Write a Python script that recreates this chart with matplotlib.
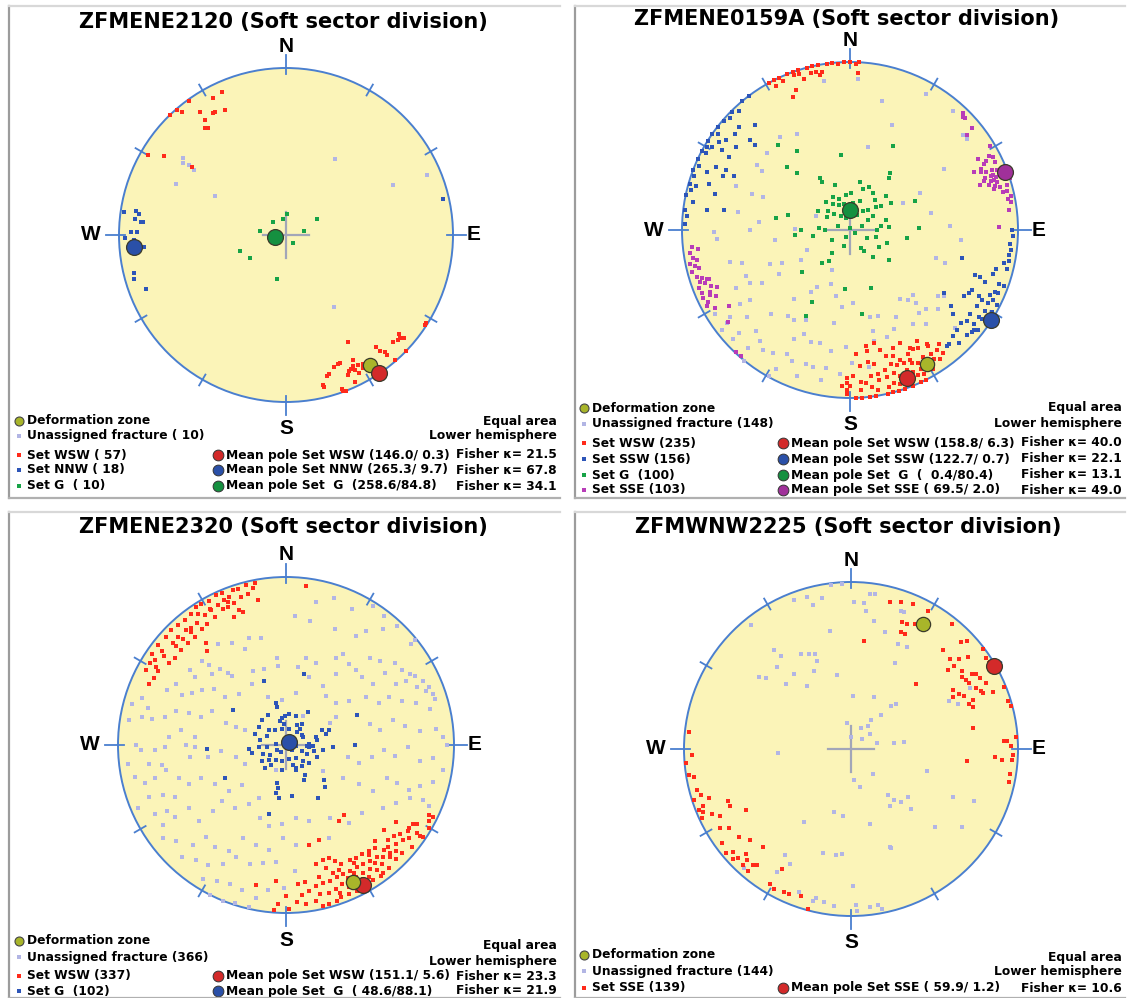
import numpy as np
import matplotlib.pyplot as plt
from matplotlib.patches import Circle
from matplotlib.lines import Line2D

# poles as (trend, plunge), lower hemisphere
p1_unassigned = [(299, 50), (33, 45), (305, 26), (305, 33), (295, 28), (65, 30), (67, 9),
                 (146, 47), (306, 29), (307, 24)]
p1_wsw = [(336, 7), (332, 8), (324, 1), (319, 1), (320, 4), (325, 11), (329, 16), (330, 16),
          (334, 18), (325, 17), (324, 22), (323, 21), (316, 0), (300, 5), (303, 14), (306, 31),
          (150, 27), (158, 18), (157, 18), (152, 16), (153, 13), (155, 11), (153, 10), (156, 9),
          (160, 2), (163, 14), (164, 13), (166, 7), (166, 8), (159, 0), (155, 3), (152, 7),
          (141, 15), (140, 9), (140, 7), (135, 10), (133, 9), (132, 9), (131, 7), (139, 1),
          (134, 0), (123, 1), (122, 1), (150, 9), (149, 11), (146, 6), (147, 5), (160, 1),
          (160, 17), (154, 12), (151, 12), (141, 12), (131, 11)]
p1_nnw = [(279, 10), (278, 12), (275, 14), (275, 15), (271, 12), (271, 8), (268, 10), (265, 9),
          (265, 12), (265, 16), (256, 7), (254, 6), (249, 11), (77, 4), (278, 2), (269, 4), (276, 10)]
p1_g = [(2, 80), (314, 81), (350, 82), (62, 73), (278, 77), (79, 81), (140, 85), (251, 66),
        (237, 69), (191, 68)]

p2_unassigned = [(350, 11), (3, 11), (14, 22), (29, 8), (41, 7), (22, 33), (12, 48), (323, 31),
                 (331, 35), (313, 33), (305, 33), (304, 37), (291, 28), (290, 38), (279, 33),
                 (269, 20), (266, 22), (270, 40), (262, 53), (275, 45), (255, 27), (253, 33),
                 (247, 47), (238, 49), (244, 53), (238, 62), (204, 69), (199, 62), (210, 58),
                 (192, 57), (212, 54), (219, 46), (216, 37), (212, 37), (206, 40), (199, 30),
                 (195, 31), (190, 43), (186, 52), (178, 54), (167, 46), (162, 45), (152, 41),
                 (144, 48), (140, 45), (136, 45), (138, 41), (136, 35), (141, 29), (127, 35),
                 (124, 33), (125, 32), (132, 30), (133, 16), (109, 40), (108, 45), (78, 49),
                 (57, 34), (50, 13), (52, 13), (95, 34), (88, 40), (62, 51), (63, 61), (246, 33),
                 (242, 33), (239, 39), (243, 25), (236, 22), (230, 21), (223, 19), (219, 16),
                 (227, 11), (227, 5), (221, 8), (216, 13), (219, 0), (212, 15), (207, 18),
                 (204, 16), (200, 8), (198, 17), (195, 17), (190, 18), (184, 15), (191, 10),
                 (179, 22), (167, 38), (168, 33), (161, 33), (156, 36), (146, 33), (140, 36),
                 (209, 1), (208, 7), (172, 19), (189, 28), (207, 28), (204, 33), (182, 31),
                 (223, 32), (235, 28), (234, 13), (233, 9), (232, 4), (238, 6), (271, 63),
                 (292, 72), (245, 67), (291, 44)]
p2_wsw = [(331, 0), (333, 0), (335, 0), (338, 0), (340, 0), (342, 0), (345, 0), (347, 0),
          (349, 0), (352, 0), (354, 0), (356, 1), (358, 0), (340, 2), (342, 3), (346, 4),
          (348, 4), (339, 12), (337, 15), (349, 7), (350, 5), (3, 7), (333, 4), (336, 3),
          (343, 7), (3, 0), (0, 0), (2, 1),
          (181, 10), (181, 5), (179, 14), (172, 31), (172, 28), (168, 32), (166, 27), (160, 26),
          (156, 27), (149, 24), (152, 21), (146, 19), (144, 13), (145, 7), (149, 4), (153, 0),
          (155, 0), (158, 0), (161, 0), (163, 0), (165, 0), (167, 0), (171, 0), (173, 0),
          (176, 0), (164, 6), (161, 9), (161, 16), (158, 16), (155, 16), (153, 12), (153, 8),
          (156, 8), (158, 11), (163, 12), (163, 18), (164, 23), (155, 20), (150, 14), (147, 13),
          (166, 11), (169, 10), (172, 6), (174, 9), (176, 5), (178, 0), (170, 4), (166, 4),
          (162, 4), (158, 3), (155, 5), (153, 4), (151, 8), (147, 9), (143, 9), (142, 15),
          (155, 14), (159, 18), (166, 15), (169, 14), (172, 13), (176, 10), (181, 13), (180, 8),
          (183, 8), (170, 20), (172, 22), (176, 20), (177, 27), (161, 22), (153, 22), (150, 20),
          (146, 18), (181, 3)]
p2_ssw = [(277, 1), (282, 0), (286, 1), (291, 0), (295, 0), (298, 0), (302, 0), (305, 0),
          (308, 0), (311, 1), (315, 1), (320, 0), (323, 0), (298, 3), (301, 5), (304, 7),
          (306, 10), (310, 12), (313, 11), (318, 17), (312, 21), (312, 25), (306, 17), (302, 11),
          (301, 17), (295, 13), (296, 19), (295, 25), (293, 19), (292, 9), (288, 13), (285, 18),
          (278, 15), (279, 25), (286, 5), (280, 6), (289, 2), (293, 3), (300, 2), (306, 3),
          (313, 3), (317, 4), (284, 3), (275, 3), (272, 2),
          (104, 32), (110, 22), (110, 19), (111, 15), (107, 12), (105, 11), (102, 7), (99, 5),
          (97, 4), (95, 5), (104, 4), (110, 6), (113, 7), (115, 9), (118, 12), (121, 13),
          (125, 14), (128, 13), (130, 15), (133, 14), (136, 13), (139, 11), (140, 11), (124, 8),
          (121, 7), (118, 8), (116, 6), (113, 5), (110, 3), (129, 6), (132, 7), (136, 7),
          (129, 22), (127, 26), (124, 33), (120, 23), (118, 21), (116, 20), (117, 15), (124, 6),
          (127, 8), (130, 6), (128, 4), (123, 3), (120, 3), (117, 2), (90, 4), (92, 3), (101, 4)]
p2_g = [(353, 53), (320, 34), (326, 43), (315, 46), (317, 52), (330, 61), (330, 63), (341, 67),
        (333, 72), (341, 74), (354, 73), (2, 72), (12, 66), (18, 69), (24, 67), (32, 69),
        (39, 71), (18, 75), (6, 77), (348, 77), (336, 77), (326, 75), (320, 72), (310, 76),
        (315, 79), (327, 82), (340, 84), (25, 82), (35, 79), (41, 77), (59, 77), (48, 73),
        (53, 71), (35, 56), (37, 58), (27, 43), (47, 66), (57, 66), (74, 72), (85, 71), (83, 75),
        (89, 77), (104, 77), (116, 81), (149, 80), (147, 78), (139, 73), (120, 74), (110, 71),
        (127, 66), (98, 62), (66, 55), (88, 56), (290, 84), (271, 78), (274, 75), (260, 72),
        (270, 66), (265, 63), (284, 59), (279, 53), (229, 59), (221, 69), (214, 72), (240, 80),
        (200, 82), (210, 86), (123, 87), (219, 76), (185, 61), (160, 60), (172, 48), (208, 50),
        (207, 42), (300, 77), (300, 72), (69, 84), (0, 89), (62, 80)]
p2_sse = [(46, 5), (50, 6), (51, 11), (59, 3), (63, 5), (65, 15), (67, 13), (69, 10), (65, 5),
          (68, 0), (72, 0), (74, 8), (76, 7), (79, 5), (83, 5), (89, 12), (71, 19), (70, 16),
          (72, 14), (71, 12), (67, 9), (70, 8), (65, 20), (69, 11), (71, 10), (73, 11), (74, 3),
          (71, 3), (45, 5), (44, 4), (80, 3), (78, 2), (62, 7), (64, 12), (66, 16), (68, 6),
          (72, 9), (74, 12), (76, 4), (69, 15), (63, 10), (61, 14),
          (264, 6), (260, 6), (258, 3), (253, 5), (251, 6), (251, 11), (248, 12),
          (247, 15), (245, 9), (247, 5), (245, 4), (242, 4), (243, 6), (238, 16), (233, 10),
          (263, 10), (223, 1), (221, 1), (257, 6), (256, 8), (250, 9), (251, 12),
          (255, 3), (249, 4), (246, 10), (252, 8), (259, 8), (262, 4),
          (244, 12), (240, 8)]

p3_unassigned = [(18, 9), (12, 14), (26, 11), (32, 3), (37, 4), (4, 24), (11, 26), (23, 26),
                 (33, 24), (35, 18), (40, 11), (43, 4), (51, 5), (51, 1), (341, 33), (347, 35),
                 (326, 28), (332, 32), (337, 38), (354, 47), (13, 46), (20, 47), (30, 40),
                 (32, 36), (38, 39), (44, 29), (48, 26), (53, 20), (57, 19), (60, 16), (62, 14),
                 (65, 11), (68, 9), (71, 8), (315, 30), (316, 34), (308, 28), (307, 33),
                 (314, 39), (319, 40), (321, 44), (322, 47), (336, 50), (344, 51), (354, 51),
                 (9, 51), (19, 55), (32, 56), (35, 47), (43, 39), (48, 39), (55, 37), (54, 28),
                 (61, 26), (62, 20), (66, 16), (69, 12), (73, 8), (299, 26), (295, 23), (296, 32),
                 (299, 36), (303, 40), (308, 45), (308, 52), (317, 56), (331, 56), (340, 65),
                 (355, 68), (11, 64), (39, 59), (50, 58), (55, 52), (59, 44), (66, 39), (65, 33),
                 (69, 27), (72, 20), (76, 13), (288, 11), (285, 6), (285, 16), (279, 6), (281, 14),
                 (281, 20), (283, 27), (287, 32), (288, 39), (288, 46), (295, 50), (290, 59),
                 (290, 64), (290, 69), (30, 74), (64, 66), (61, 62), (76, 47), (81, 43), (77, 35),
                 (81, 29), (84, 21), (84, 11), (87, 7), (90, 5), (278, 37), (275, 45), (274, 31),
                 (270, 12), (268, 15), (268, 23), (269, 29), (270, 40), (269, 45), (263, 42),
                 (261, 51), (265, 58), (257, 65), (245, 68), (101, 59), (104, 53), (98, 47),
                 (93, 41), (96, 35), (91, 28), (97, 21), (95, 13), (263, 6), (262, 19), (261, 26),
                 (258, 9), (255, 14), (256, 21), (258, 28), (253, 34), (248, 38), (249, 45),
                 (241, 50), (231, 54), (228, 61), (212, 56), (207, 61), (202, 77), (125, 68),
                 (120, 58), (118, 49), (118, 41), (108, 37), (109, 31), (110, 23), (107, 18),
                 (104, 11), (99, 6), (249, 14), (248, 22), (245, 28), (247, 5), (242, 13),
                 (241, 20), (237, 22), (237, 32), (229, 32), (228, 41), (229, 48), (219, 50),
                 (200, 52), (192, 49), (183, 51), (172, 54), (163, 51), (149, 48), (141, 40),
                 (132, 39), (123, 32), (118, 27), (113, 21), (112, 13), (113, 8), (233, 9),
                 (229, 14), (223, 20), (221, 28), (215, 27), (208, 29), (205, 39), (197, 38),
                 (189, 37), (182, 44), (174, 40), (155, 39), (237, 14), (223, 10), (218, 14),
                 (213, 16), (208, 21), (204, 28), (197, 27), (212, 7), (207, 10), (202, 12),
                 (197, 11), (191, 8), (187, 14), (181, 16), (176, 26), (207, 0), (202, 0),
                 (198, 1), (193, 1), (191, 29), (185, 31)]
p3_wsw = [(349, 2), (348, 5), (346, 2), (343, 3), (341, 3), (339, 6), (337, 7), (337, 2),
          (335, 2), (332, 3), (329, 2), (327, 2), (324, 4), (321, 5), (318, 4), (315, 4),
          (312, 4), (308, 4), (304, 4), (301, 6), (298, 6), (294, 12), (297, 13), (300, 13),
          (305, 16), (308, 17), (312, 17), (316, 17), (320, 17), (324, 16), (327, 15), (331, 14),
          (335, 12), (337, 12), (340, 11), (343, 9), (346, 8), (349, 13), (341, 16), (338, 19),
          (322, 24), (320, 28), (321, 11), (319, 10), (315, 10), (312, 10), (307, 8), (303, 8),
          (326, 7), (331, 9), (342, 18), (7, 5), (301, 11), (306, 11), (312, 13), (316, 13),
          (320, 13), (324, 11), (328, 10), (331, 8), (334, 8), (338, 9),
          (192, 16), (184, 20), (183, 6), (184, 2), (167, 39), (161, 40), (145, 44), (140, 45),
          (137, 23), (131, 24), (125, 21), (125, 12), (118, 4), (124, 7), (124, 2), (116, 3),
          (166, 28), (162, 29), (159, 29), (157, 26), (155, 23), (151, 23), (148, 22), (145, 22),
          (142, 21), (139, 20), (137, 16), (135, 15), (132, 13), (129, 11), (127, 9), (137, 10),
          (141, 10), (144, 9), (148, 8), (151, 6), (154, 4), (157, 4), (160, 4), (162, 3),
          (165, 2), (167, 2), (169, 6), (168, 15), (165, 16), (162, 16), (159, 17), (156, 17),
          (153, 17), (150, 17), (147, 17), (144, 16), (141, 15), (164, 9), (161, 10), (158, 12),
          (155, 12), (152, 12), (149, 12), (146, 12), (143, 5), (140, 5), (136, 6), (133, 6),
          (129, 4), (134, 10), (162, 24), (166, 20), (167, 10), (171, 13), (174, 11), (173, 5),
          (176, 7), (180, 11), (179, 3), (172, 19), (175, 18), (153, 5), (150, 5), (147, 5),
          (144, 4), (156, 8), (160, 7), (153, 8), (150, 9), (155, 14), (160, 20), (157, 20),
          (152, 15), (143, 13), (139, 13), (136, 12), (143, 19), (150, 20), (133, 18), (130, 17),
          (128, 15), (124, 4), (121, 10), (120, 2), (116, 6), (122, 12), (124, 13)]
p3_g = [(346, 69), (347, 71), (330, 73), (316, 73), (304, 74), (290, 74), (280, 77), (265, 77),
        (264, 72), (256, 73), (237, 76), (228, 79), (214, 81), (194, 82), (167, 83), (141, 82),
        (133, 79), (129, 76), (112, 74), (98, 72), (93, 67), (74, 70), (71, 68), (68, 71),
        (75, 75), (87, 79), (64, 81), (41, 80), (28, 79), (12, 82), (346, 82), (324, 81),
        (295, 80), (263, 81), (238, 85), (214, 86), (130, 86), (110, 82), (101, 76), (98, 85),
        (276, 85), (148, 73), (153, 71), (143, 77), (156, 78), (193, 71), (192, 66), (188, 64),
        (173, 65), (149, 60), (133, 65), (137, 62), (191, 69), (242, 56), (267, 51), (303, 59),
        (341, 57), (14, 54), (34, 71), (67, 52), (90, 56), (194, 55), (351, 77), (359, 76),
        (5, 75), (19, 75), (37, 77), (311, 79), (248, 78), (216, 78), (223, 75), (159, 77),
        (96, 79), (92, 77), (80, 75), (346, 78), (354, 80), (41, 82), (58, 81), (94, 80),
        (114, 79), (161, 80), (189, 78), (237, 81)]

p4_unassigned = [(339, 5), (344, 6), (345, 12), (349, 9), (353, 1), (357, 1), (1, 13), (5, 13),
                 (6, 18), (7, 7), (9, 7), (10, 23), (16, 28), (24, 32), (29, 31), (20, 13), (21, 13),
                 (321, 5), (322, 26), (323, 31), (318, 34), (308, 31), (310, 34), (315, 44),
                 (323, 43), (332, 36), (336, 38), (339, 39), (339, 43), (335, 47), (325, 52),
                 (350, 29), (349, 53), (27, 42), (2, 64), (24, 62), (43, 61), (45, 59), (41, 68),
                 (35, 73), (37, 76), (25, 79), (352, 77), (358, 84), (48, 83), (52, 78), (77, 77),
                 (82, 69), (82, 64), (174, 75), (167, 71), (139, 74), (267, 54), (141, 61),
                 (140, 57), (137, 54), (130, 53), (146, 56), (135, 48), (106, 51), (115, 33),
                 (113, 21), (133, 32), (125, 20), (213, 47), (195, 58), (187, 57), (166, 52),
                 (195, 36), (188, 36), (185, 37), (158, 37), (158, 36), (212, 26), (211, 15),
                 (208, 23), (200, 10), (194, 7), (190, 8), (186, 6), (179, 19), (178, 7), (178, 3),
                 (173, 5), (170, 6), (169, 3), (193, 9), (64, 35), (67, 31), (222, 5), (63, 21)]
p4_sse = [(15, 10), (19, 8), (23, 6), (29, 6), (22, 19), (24, 19), (27, 17), (23, 25), (25, 25),
          (7, 35), (39, 4), (46, 9), (43, 20), (48, 21), (51, 22), (50, 17), (52, 12), (53, 1),
          (56, 3), (58, 3), (55, 20), (58, 16), (59, 14), (61, 13), (64, 11), (57, 22), (59, 21),
          (61, 20), (64, 18), (66, 16), (60, 30), (63, 28), (65, 26), (69, 25), (68, 22),
          (63, 32), (71, 24), (67, 15), (68, 9), (68, 1), (73, 2), (75, 1), (45, 44), (80, 27),
          (87, 9), (87, 7), (89, 5), (92, 3), (86, 1), (94, 4), (99, 4), (102, 4), (93, 15),
          (96, 31), (94, 10), (58, 2), (59, 0), (51, 26), (47, 6),
          (276, 3), (268, 5), (265, 1), (261, 2), (260, 5), (255, 5), (253, 7), (252, 1),
          (248, 2), (245, 2), (251, 11), (245, 9), (243, 13), (247, 21), (245, 21), (240, 28),
          (239, 9), (237, 14), (232, 16), (228, 20), (234, 5), (230, 3), (227, 4), (226, 7),
          (223, 6), (223, 10), (220, 10), (219, 12), (222, 22), (211, 6), (209, 5), (205, 6),
          (203, 6), (199, 8), (195, 1), (229, 7), (225, 12), (220, 5), (210, 18), (249, 6),
          (247, 4)]

set_counts = {'p1': [10, 57, 18, 10], 'p2': [148, 235, 156, 100, 103],
              'p3': [366, 337, 102], 'p4': [144, 139]}

# mean poles (trend, plunge) and Fisher kappa, deformation zone poles
p1_means = [(146.0, 0.3), (265.3, 9.7), (258.6, 84.8)]
p1_kappa = [21.5, 67.8, 34.1]
p2_means = [(158.8, 6.3), (122.7, 0.7), (0.4, 80.4), (69.5, 2.0)]
p2_kappa = [40.0, 22.1, 13.1, 49.0]
p3_means = [(151.1, 5.6), (48.6, 88.1)]
p3_kappa = [23.3, 21.9]
p4_means = [(59.9, 1.2)]
p4_kappa = [10.6]
dz_poles = [(147, 8), (150, 9), (154, 10), (30, 15)]

W, H = 1127, 998
FILL = '#fbf4b8'
RIM = '#4a7fcf'
CROSS = '#a2a6b8'
UNAS = '#b2b5e4'
OLIVE = '#a8b52a'
RED, BLUE, GREEN, MAG = '#ff2a1a', '#2d55b8', '#17a347', '#b83cb8'
M_RED, M_BLUE, M_GREEN, M_MAG = '#d32a2a', '#2a50a8', '#159040', '#a0309a'
LFS = 8.8
LFONT = ['DejaVu Sans']

plt.rcParams['font.family'] = ['Liberation Sans', 'DejaVu Sans']
plt.rcParams['font.weight'] = 'bold'

fig = plt.figure(figsize=(W / 100, H / 100), dpi=100)


def project(pts):
    a = np.array(pts, float)
    t = np.radians(a[:, 0])
    r = np.sqrt(2) * np.sin(np.radians(90 - a[:, 1]) / 2)
    return r * np.sin(t), r * np.cos(t)


def panel(box, cx, cy, R, title, title_y):
    x0, y0, x1, y1 = box
    ax = fig.add_axes([x0 / W, 1 - y1 / H, (x1 - x0) / W, (y1 - y0) / H])
    ax.set_xlim((x0 - cx) / R, (x1 - cx) / R)
    ax.set_ylim((cy - y1) / R, (cy - y0) / R)
    ax.axis('off')
    # panel frame
    for xs, ys, c in [([x0, x0], [y0, y1], '#9c9c9c'), ([x0, x1 - 2], [y1, y1], '#b0b0b0'),
                      ([x0, x1 - 2], [y0, y0], '#d8d8d8')]:
        fig.add_artist(Line2D(np.array(xs) / W, 1 - np.array(ys) / H, color=c, lw=1.6,
                              transform=fig.transFigure))

    def at(px, py):
        return (px - cx) / R, (cy - py) / R

    ax.add_patch(Circle((0, 0), 1, fc=FILL, ec=RIM, lw=1.4, zorder=1))
    for a in range(0, 360, 30):
        t = np.radians(a)
        r0, r1 = (0.965, 1.075) if a % 90 == 0 else (0.965, 1.04)
        ax.plot([r0 * np.sin(t), r1 * np.sin(t)], [r0 * np.cos(t), r1 * np.cos(t)],
                color=RIM, lw=1.3, zorder=2)
    k = 0.14
    ax.plot([-k, k], [0, 0], color=CROSS, lw=1.6, zorder=2)
    ax.plot([0, 0], [-k, k], color=CROSS, lw=1.6, zorder=2)
    lab = dict(fontsize=15, fontweight='bold', ha='center', va='center')
    ax.text(0, 1 + 22 / R, 'N', **lab)
    ax.text(0, -1 - 27 / R, 'S', **lab)
    ax.text(-1 - 28 / R, 0, 'W', **lab)
    ax.text(1 + 21 / R, 0, 'E', **lab)
    ax.text(*at(cx - 3, title_y), title, fontsize=15, fontweight='bold', ha='center',
            va='center', family=LFONT)
    return ax, at


def scatter(ax, pts, color, z):
    x, y = project(pts)
    ax.scatter(x, y, s=10, c=color, marker='s', linewidths=0, zorder=z)


def big(ax, pts, color, z, s=130):
    x, y = project(pts)
    ax.scatter(x, y, s=s, c=color, edgecolors='#3a3a2a', linewidths=0.9, zorder=z)


def ltext(ax, xy, s, ha='left'):
    ax.text(*xy, s, fontsize=LFS, va='center', ha=ha, family=LFONT, fontweight='bold')


def header(ax, at, lx, rx, dz_y, un_y, eq_y, unas_n):
    ax.scatter(*at(lx, dz_y), s=42, c=OLIVE, edgecolors='#444', linewidths=0.8, zorder=6,
               clip_on=False)
    ltext(ax, at(lx + 8, dz_y), 'Deformation zone')
    ax.scatter(*at(lx, un_y), s=10, c=UNAS, marker='s', linewidths=0, clip_on=False)
    ltext(ax, at(lx + 8, un_y), 'Unassigned fracture (%3d)' % unas_n)
    ltext(ax, at(rx, eq_y), 'Equal area', 'right')
    ltext(ax, at(rx, eq_y + 15), 'Lower hemisphere', 'right')


def row(ax, at, lx, mx, rx, y, name, n, col, mcol, mean, kap):
    ax.scatter(*at(lx, y), s=10, c=col, marker='s', linewidths=0, clip_on=False)
    nm = 'G ' if name == 'G' else name
    ltext(ax, at(lx + 8, y), 'Set %s (%3d)' % (nm, n))
    ax.scatter(*at(mx, y), s=60, c=mcol, edgecolors='#333', linewidths=0.7,
               clip_on=False, zorder=6)
    nm2 = ' G ' if name == 'G' else name
    ltext(ax, at(mx + 8, y), 'Mean pole Set %s (%5.1f/%4.1f)' % (nm2, mean[0], mean[1]))
    ltext(ax, at(rx, y), 'Fisher \u03ba= %4.1f' % kap, 'right')


# panel 1
ax, at = panel((9, 6, 562, 498), 286, 235, 167, 'ZFMENE2120 (Soft sector division)', 22)
scatter(ax, p1_unassigned, UNAS, 3)
scatter(ax, p1_wsw, RED, 4)
scatter(ax, p1_nnw, BLUE, 4)
scatter(ax, p1_g, GREEN, 4)
big(ax, [dz_poles[0]], OLIVE, 5, 105)
for m, mc in zip(p1_means, [M_RED, M_BLUE, M_GREEN]):
    big(ax, [m], mc, 6)
c1 = set_counts['p1']
header(ax, at, 19, 557, 421, 436, 421, c1[0])
for y, nm, n, col, mc, m, kp in zip([455, 470, 486], ['WSW', 'NNW', 'G'], c1[1:],
                                    [RED, BLUE, GREEN], [M_RED, M_BLUE, M_GREEN],
                                    p1_means, p1_kappa):
    row(ax, at, 19, 218, 557, y, nm, n, col, mc, m, kp)

# panel 2
ax, at = panel((575, 6, 1127, 498), 850, 230, 168, 'ZFMENE0159A (Soft sector division)', 19)
scatter(ax, p2_unassigned, UNAS, 3)
scatter(ax, p2_ssw, BLUE, 4)
scatter(ax, p2_sse, MAG, 4)
scatter(ax, p2_g, GREEN, 4)
scatter(ax, p2_wsw, RED, 4)
big(ax, [dz_poles[1]], OLIVE, 5, 105)
for m, mc in zip(p2_means, [M_RED, M_BLUE, M_GREEN, M_MAG]):
    big(ax, [m], mc, 6)
c2 = set_counts['p2']
header(ax, at, 584, 1122, 408, 424, 408, c2[0])
for y, nm, n, col, mc, m, kp in zip([443, 459, 475, 490], ['WSW', 'SSW', 'G', 'SSE'], c2[1:],
                                    [RED, BLUE, GREEN, MAG], [M_RED, M_BLUE, M_GREEN, M_MAG],
                                    p2_means, p2_kappa):
    row(ax, at, 584, 783, 1122, y, nm, n, col, mc, m, kp)

# panel 3
ax, at = panel((9, 512, 562, 998), 286, 745, 168, 'ZFMENE2320 (Soft sector division)', 527)
scatter(ax, p3_unassigned, UNAS, 3)
scatter(ax, p3_wsw, RED, 4)
scatter(ax, p3_g, BLUE, 4)
big(ax, [p3_means[0]], M_RED, 5)
big(ax, [dz_poles[2]], OLIVE, 6, 105)
big(ax, [p3_means[1]], M_BLUE, 6)
c3 = set_counts['p3']
header(ax, at, 19, 557, 941, 957, 946, c3[0])
for y, nm, n, col, mc, m, kp in zip([976, 991], ['WSW', 'G'], c3[1:], [RED, BLUE],
                                    [M_RED, M_BLUE], p3_means, p3_kappa):
    row(ax, at, 19, 218, 557, y, nm, n, col, mc, m, kp)

# panel 4
ax, at = panel((575, 512, 1127, 998), 851, 749, 167, 'ZFMWNW2225 (Soft sector division)', 527)
scatter(ax, p4_unassigned, UNAS, 3)
scatter(ax, p4_sse, RED, 4)
big(ax, [dz_poles[3]], OLIVE, 5, 105)
big(ax, [p4_means[0]], M_RED, 6)
c4 = set_counts['p4']
header(ax, at, 584, 1122, 955, 971, 957, c4[0])
row(ax, at, 584, 783, 1122, 988, 'SSE', c4[1], RED, M_RED, p4_means[0], p4_kappa[0])

fig.savefig('out.png', dpi=100, facecolor='white')
